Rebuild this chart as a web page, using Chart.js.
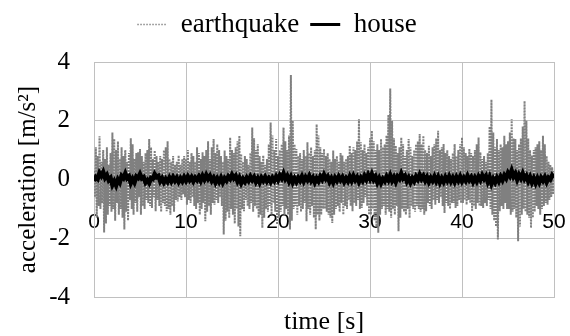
<!DOCTYPE html>
<html>
<head>
<meta charset="utf-8">
<script src="https://cdn.jsdelivr.net/npm/chart.js@4"></script>
<style>
  html, body { margin: 0; padding: 0; background: #fff; }
  #wrap { width: 570px; height: 336px; }
</style>
</head>
<body>
<div id="wrap"><canvas id="c"></canvas></div>
<script>
// sampling of the two records
const eqStep = 0.1;
const houseStep = 0.2;

// earthquake ground acceleration [m/s2], one row per second
const earthquake = [
  0.3, -0.6, 1.1, -1.3, 0.8, -0.9, 1.47, -1.0, 0.6, -0.8,
  1.0, -1.8, 0.7, -1.5, 1.1, -1.2, 0.5, -0.9, 0.9, -1.1,
  1.6, -1.0, 1.38, -1.4, 1.0, -0.8, 1.3, -1.2, 0.7, -1.0,
  1.1, -1.3, 0.8, -1.7, 1.0, -1.1, 0.6, -1.4, 0.9, -0.7,
  1.4, -1.0, 1.2, -1.2, 0.7, -0.8, 0.9, -1.1, 0.93, -0.6,
  1.04, -1.2, 0.8, -0.9, 0.6, -1.0, 0.9, -0.7, 1.0, -0.8,
  1.38, -0.9, 1.1, -0.97, 0.7, -0.6, 0.99, -1.08, 0.8, -0.7,
  0.6, -0.9, 0.8, -1.1, 0.7, -0.8, 1.0, -0.9, 1.1, -1.08,
  1.3, -1.0, 0.7, -1.2, 0.6, -0.9, 0.8, -1.1, 0.5, -0.7,
  0.6, -0.75, 0.82, -0.6, 0.5, -0.7, 0.7, -0.5, 0.8, -0.6,
  0.7, -0.86, 1.0, -0.7, 0.6, -0.8, 0.9, -0.6, 0.8, -0.9,
  0.6, -1.0, 1.1, -0.8, 0.9, -1.2, 0.7, -1.0, 0.93, -0.8,
  0.8, -1.42, 1.0, -1.1, 1.3, -0.9, 0.7, -1.2, 1.1, -0.8,
  1.38, -0.86, 0.9, -0.7, 1.2, -0.8, 1.0, -0.6, 0.8, -0.9,
  0.6, -1.87, 0.99, -1.4, 0.8, -1.1, 0.7, -1.31, 1.43, -1.0,
  1.0, -1.2, 0.9, -1.5, 1.1, -1.0, 1.3, -1.6, 1.49, -1.93,
  0.87, -1.0, 0.6, -1.08, 0.8, -0.7, 0.7, -0.9, 0.5, -1.0,
  0.9, -0.8, 1.77, -1.1, 1.4, -0.9, 1.0, -1.0, 1.2, -1.3,
  0.8, -1.2, 0.6, -1.65, 0.82, -1.3, 0.5, -1.0, 0.7, -1.1,
  1.2, -0.9, 1.94, -1.2, 1.5, -0.8, 1.0, -1.1, 1.38, -1.53,
  0.8, -1.3, 1.0, -1.1, 1.2, -0.9, 1.77, -1.2, 1.3, -1.0,
  1.0, -1.2, 1.5, -1.7, 3.56, -1.4, 2.0, -1.0, 1.2, -0.9,
  1.04, -1.2, 0.8, -0.9, 0.9, -1.1, 0.7, -1.0, 1.0, -0.8,
  0.8, -1.42, 1.27, -1.0, 0.9, -1.2, 1.1, -0.9, 0.8, -1.3,
  1.0, -1.7, 1.88, -1.2, 1.5, -1.4, 1.1, -1.2, 0.9, -1.0,
  1.04, -1.0, 0.8, -1.1, 0.9, -1.2, 0.7, -1.3, 0.6, -1.48,
  0.99, -1.2, 0.7, -1.0, 0.8, -0.9, 0.6, -1.1, 0.9, -0.8,
  0.82, -1.2, 0.6, -0.9, 0.7, -1.0, 0.8, -0.7, 1.15, -0.9,
  0.9, -1.08, 1.1, -0.8, 1.0, -0.9, 1.3, -0.7, 2.05, -1.0,
  1.27, -0.97, 1.0, -0.8, 1.2, -0.6, 0.9, -0.9, 1.1, -1.2,
  1.4, -1.2, 1.66, -1.0, 1.3, -1.4, 1.0, -1.6, 1.2, -1.81,
  1.0, -1.2, 1.38, -1.0, 1.1, -0.9, 1.2, -1.2, 1.5, -1.0,
  2.2, -1.1, 3.1, -1.3, 2.0, -1.0, 1.4, -1.2, 1.15, -0.9,
  0.9, -1.76, 1.1, -1.3, 1.43, -1.0, 1.2, -1.1, 0.8, -1.2,
  1.0, -1.0, 1.38, -1.31, 1.1, -0.9, 0.8, -1.0, 1.0, -1.1,
  1.2, -0.9, 1.3, -1.0, 1.55, -1.1, 1.2, -1.0, 1.49, -1.2,
  1.0, -1.08, 0.9, -0.8, 1.15, -0.9, 0.8, -1.0, 1.1, -0.7,
  1.2, -0.86, 1.4, -0.7, 1.66, -0.8, 1.0, -0.6, 1.1, -0.9,
  1.21, -1.14, 0.9, -0.8, 1.0, -0.9, 0.8, -1.0, 0.7, -0.8,
  0.9, -0.8, 1.21, -0.97, 0.8, -0.9, 1.0, -0.7, 1.2, -0.8,
  1.43, -0.8, 1.1, -0.7, 0.9, -0.86, 0.8, -0.7, 1.04, -0.8,
  0.9, -1.08, 0.8, -0.9, 1.0, -1.0, 1.2, -0.8, 1.43, -0.9,
  0.93, -0.9, 0.7, -0.97, 0.8, -0.8, 0.6, -0.9, 0.9, -0.7,
  1.8, -1.0, 2.72, -1.2, 1.6, -1.4, 1.1, -1.6, 1.38, -2.04,
  1.0, -1.08, 1.2, -0.9, 1.1, -1.0, 1.49, -0.8, 1.2, -1.0,
  1.3, -1.0, 1.6, -1.2, 2.05, -1.1, 1.4, -1.0, 1.38, -1.3,
  1.0, -2.1, 1.2, -1.6, 1.4, -1.2, 1.8, -1.0, 2.67, -1.1,
  2.0, -1.2, 1.4, -1.3, 1.0, -1.65, 0.82, -1.3, 1.0, -1.1,
  1.1, -0.9, 1.2, -1.0, 1.3, -1.2, 1.0, -1.0, 1.49, -0.9,
  1.2, -0.8, 0.8, -0.86, 0.6, -0.7, 0.5, -0.6, 0.42, -0.5,
  0.3
];

// house response [m/s2], one row per two seconds
const house = [
  -0.05, 0.08, 0.02, 0.22, 0.12, 0.25, 0.06, 0.15, -0.02, 0.05,
  -0.18, -0.06, -0.2, 0.0, -0.1, 0.12, 0.05, 0.2, 0.04, 0.1,
  -0.12, 0.02, -0.1, 0.1, 0.05, 0.18, 0.04, 0.08, -0.1, -0.02,
  -0.12, 0.05, 0.02, 0.18, 0.08, 0.12, -0.06, 0.04, -0.1, 0.02,
  -0.08, 0.06, -0.06, 0.08, -0.04, 0.06, -0.08, 0.04, -0.06, 0.08,
  -0.04, 0.1, -0.02, 0.08, -0.06, 0.06, -0.02, 0.1, -0.04, 0.12,
  0.0, 0.15, 0.02, 0.12, -0.04, 0.06, -0.1, 0.04, -0.08, 0.06,
  -0.1, 0.04, -0.04, 0.1, 0.02, 0.16, 0.04, 0.12, -0.06, 0.06,
  -0.12, 0.02, -0.08, 0.06, -0.04, 0.1, -0.02, 0.08, -0.08, 0.04,
  -0.1, 0.06, -0.04, 0.08, -0.06, 0.04, -0.08, 0.06, -0.04, 0.1,
  -0.02, 0.14, 0.04, 0.2, 0.02, 0.12, -0.06, 0.08, -0.1, 0.04,
  -0.08, 0.06, -0.04, 0.1, -0.06, 0.08, -0.02, 0.12, -0.04, 0.06,
  -0.1, 0.04, -0.06, 0.1, 0.0, 0.16, 0.02, 0.1, -0.08, 0.04,
  -0.1, 0.06, -0.04, 0.1, -0.02, 0.08, -0.08, 0.04, -0.06, 0.1,
  -0.04, 0.12, -0.02, 0.08, -0.08, 0.06, -0.04, 0.12, 0.0, 0.16,
  0.02, 0.18, 0.0, 0.1, -0.1, 0.04, -0.12, 0.02, -0.06, 0.1,
  -0.02, 0.14, -0.04, 0.08, -0.08, 0.1, 0.02, 0.2, 0.04, 0.12,
  -0.06, 0.06, -0.1, 0.04, -0.06, 0.1, 0.0, 0.16, 0.02, 0.12,
  -0.04, 0.08, -0.08, 0.06, -0.04, 0.1, -0.06, 0.08, -0.1, 0.04,
  -0.08, 0.08, -0.04, 0.1, -0.06, 0.06, -0.08, 0.08, -0.04, 0.1,
  -0.06, 0.06, -0.04, 0.12, -0.02, 0.08, -0.08, 0.06, -0.06, 0.1,
  -0.02, 0.14, 0.02, 0.12, -0.08, 0.08, -0.14, 0.02, -0.1, 0.06,
  -0.06, 0.1, -0.02, 0.14, 0.04, 0.22, 0.12, 0.3, 0.1, 0.2,
  0.0, 0.16, 0.04, 0.2, 0.02, 0.12, -0.06, 0.08, -0.1, 0.04,
  -0.12, 0.04, -0.1, 0.06, -0.04, 0.08, -0.08, 0.06, 0.0, 0.14,
  0.06
];

const xTicks = [0, 10, 20, 30, 40, 50];
const yTicks = [-4, -2, 0, 2, 4];

const toPoints = (arr, step) => arr.map((v, i) => ({ x: +(i * step).toFixed(2), y: v }));

const serif = "'Liberation Serif', 'Times New Roman', serif";
const sans = "'Liberation Sans', Arial, sans-serif";

// leave some room between the legend and the plot
const legendGap = {
  id: "legendGap",
  afterInit(chart) {
    const lg = chart.legend;
    if (!lg || lg._gapPatched) return;
    const fit = lg.fit;
    lg.fit = function () {
      fit.call(this);
      this.height += 14;
    };
    lg._gapPatched = true;
  },
};

new Chart(document.getElementById("c"), {
  type: "line",
  data: {
    datasets: [
      {
        label: "house",
        data: toPoints(house, houseStep),
        borderColor: "#000000",
        backgroundColor: "#000000",
        borderWidth: 4.5,
        pointRadius: 0,
        pointStyle: "line",
        tension: 0,
      },
      {
        label: "earthquake",
        data: toPoints(earthquake, eqStep),
        borderColor: "#808080",
        backgroundColor: "#808080",
        borderWidth: 2,
        borderDash: [2, 1],
        pointRadius: 0,
        pointStyle: "line",
        tension: 0,
      },
    ],
  },
  plugins: [legendGap],
  options: {
    responsive: true,
    maintainAspectRatio: false,
    animation: false,
    layout: { padding: { left: 0, right: 16, top: 0, bottom: 0 } },
    plugins: {
      tooltip: { enabled: false },
      legend: {
        position: "top",
        labels: {
          usePointStyle: true,
          pointStyleWidth: 30,
          boxWidth: 30,
          padding: 11,
          color: "#000",
          font: { family: serif, size: 27 },
          sort: (a, b) => b.datasetIndex - a.datasetIndex,
          generateLabels: (chart) => {
            const items = Chart.defaults.plugins.legend.labels.generateLabels(chart);
            items.forEach((it) => {
              if (it.text === "earthquake") {
                it.lineDash = [1.5, 1.5];
                it.lineWidth = 1.5;
                it.strokeStyle = "#8a8a8a";
              } else {
                it.lineWidth = 3;
              }
            });
            return items;
          },
        },
      },
    },
    scales: {
      x: {
        type: "linear",
        position: "bottom",
        min: 0,
        max: 50,
        afterBuildTicks: (s) => { s.ticks = xTicks.map((v) => ({ value: v })); },
        ticks: { display: false },
        grid: { color: "#c0c0c0", drawTicks: false },
        border: { color: "#c0c0c0" },
        title: {
          display: true,
          text: "time [s]",
          color: "#000",
          font: { family: serif, size: 26 },
          padding: { top: 10, bottom: -5 },
        },
      },
      x2: {
        type: "linear",
        position: { y: 0 },
        z: 1,
        min: 0,
        max: 50,
        afterBuildTicks: (s) => { s.ticks = xTicks.map((v) => ({ value: v })); },
        afterFit: (s) => { s.height = 0; s.paddingLeft = 0; s.paddingRight = 0; },
        ticks: { color: "#000", font: { family: sans, size: 21 }, padding: 30, maxRotation: 0 },
        grid: { display: false, drawTicks: false },
        border: { display: false },
      },
      y: {
        min: -4,
        max: 4,
        afterBuildTicks: (s) => { s.ticks = yTicks.map((v) => ({ value: v })); },
        afterFit: (s) => { s.width = 94; },
        ticks: { color: "#000", font: { family: serif, size: 25 }, padding: 24 },
        grid: { color: "#c0c0c0", drawTicks: false },
        border: { color: "#c0c0c0" },
        title: {
          display: true,
          text: "acceleration [m/s²]",
          color: "#000",
          font: { family: serif, size: 25 },
          padding: { top: 13, bottom: 0 },
        },
      },
    },
  },
});
</script>
</body>
</html>
